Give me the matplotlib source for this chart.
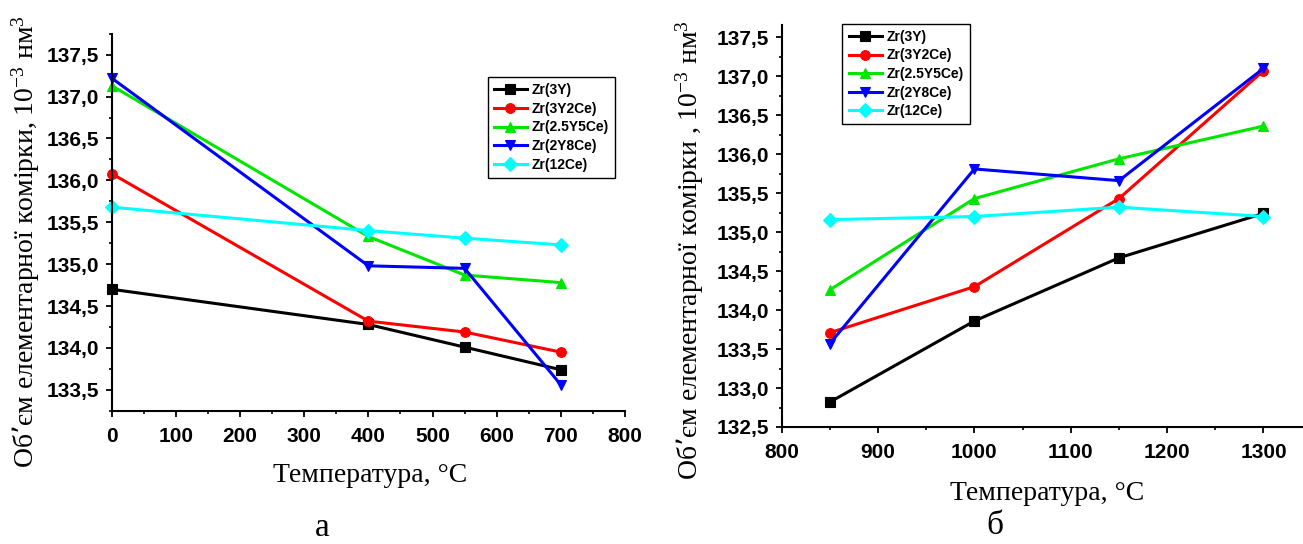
import matplotlib
matplotlib.use('Agg')
import matplotlib.pyplot as plt
from matplotlib.ticker import MultipleLocator, FuncFormatter

# ── Data ──────────────────────────────────────────────
labels = ["Zr(3Y)", "Zr(3Y2Ce)", "Zr(2.5Y5Ce)", "Zr(2Y8Ce)", "Zr(12Ce)"]
colors = ['#000000', '#ff0000', '#00e600', '#0000ff', '#00ffff']
markers = ['s', 'o', '^', 'v', 'D']

temp_a = [0, 400, 550, 700]
vol_a = [
    [134.70, 134.28, 134.01, 133.74],
    [136.08, 134.32, 134.19, 133.95],
    [137.13, 135.33, 134.87, 134.78],
    [137.22, 134.98, 134.95, 133.56],
    [135.68, 135.40, 135.31, 135.23],
]

temp_b = [850, 1000, 1150, 1300]
vol_b = [
    [132.82, 133.86, 134.67, 135.24],
    [133.71, 134.30, 135.43, 137.07],
    [134.26, 135.43, 135.94, 136.36],
    [133.57, 135.81, 135.66, 137.10],
    [135.16, 135.20, 135.32, 135.20],
]

W, H = 1303, 544
fig = plt.figure(figsize=(W / 100, H / 100), dpi=100)


def px(x0, y0, x1, y1):
    # pixel box (top-left origin) -> figure fraction rect
    return [x0 / W, 1 - y1 / H, (x1 - x0) / W, (y1 - y0) / H]


comma = FuncFormatter(lambda v, p: f'{v:.1f}'.replace('.', ','))
serif = ['Liberation Serif', 'DejaVu Serif']


def style(ax):
    ax.spines['top'].set_visible(False)
    ax.spines['right'].set_visible(False)
    for s in ('left', 'bottom'):
        ax.spines[s].set_linewidth(1.5)
    ax.tick_params(which='major', direction='out', length=4.5, width=1.3)
    ax.tick_params(which='minor', direction='out', length=2.5, width=1.2)
    ax.tick_params(axis='y', pad=4.5)
    ax.tick_params(axis='x', pad=7)
    for lab in ax.get_xticklabels() + ax.get_yticklabels():
        lab.set_fontfamily('Liberation Sans')
        lab.set_fontweight('bold')
        lab.set_fontsize(15)
    ax.yaxis.set_major_formatter(comma)
    ax.set_facecolor('none')


def draw(ax, temps, vols, legend_px):
    for lab, col, mk, v in zip(labels, colors, markers, vols):
        ax.plot(temps, v, marker=mk, color=col, linewidth=2.2, markersize=7,
                markeredgewidth=0.8, label=lab, clip_on=False)
    leg = ax.legend(loc='upper left',
                    bbox_to_anchor=(legend_px[0] / W, 1 - legend_px[1] / H),
                    bbox_transform=fig.transFigure,
                    prop={'family': 'Liberation Sans', 'weight': 'bold', 'size': 10},
                    handlelength=2.4, handletextpad=0.3, labelspacing=0.33,
                    borderpad=0.45, borderaxespad=0, fancybox=False,
                    edgecolor='black', framealpha=1, numpoints=1)
    leg.get_frame().set_linewidth(1.0)


# ── Panel a ──
ax1 = fig.add_axes(px(111.7, 33.7, 625, 410.8))
draw(ax1, temp_a, vol_a, (487.5, 77))
ax1.set_xlim(0, 800)
ax1.set_ylim(133.25, 137.75)
ax1.xaxis.set_major_locator(MultipleLocator(100))
ax1.xaxis.set_minor_locator(MultipleLocator(50))
ax1.yaxis.set_major_locator(MultipleLocator(0.5))
ax1.yaxis.set_minor_locator(MultipleLocator(0.25))
style(ax1)

# ── Panel б ──
ax2 = fig.add_axes(px(781.7, 25.5, 1303, 427))
draw(ax2, temp_b, vol_b, (842.5, 23.6))
ax2.set_xlim(800, 1341)
ax2.set_ylim(132.5, 137.65)
ax2.xaxis.set_major_locator(MultipleLocator(100))
ax2.xaxis.set_minor_locator(MultipleLocator(50))
ax2.yaxis.set_major_locator(MultipleLocator(0.5))
ax2.yaxis.set_minor_locator(MultipleLocator(0.25))
style(ax2)

plt.rcParams['mathtext.default'] = 'regular'

# axis titles and panel letters
fig.text(26 / W, 1 - 242 / H, 'Об’єм елементарної комірки, 10$^{-3}$ нм$^{3}$',
         rotation=90, ha='center', va='center', fontsize=20, family=serif)
fig.text(690 / W, 1 - 250 / H, 'Об’єм елементарної комірки , 10$^{-3}$ нм$^{3}$',
         rotation=90, ha='center', va='center', fontsize=20, family=serif)
fig.text(370 / W, 1 - 475 / H, 'Температура, °С', ha='center', va='center',
         fontsize=20, family=serif)
fig.text(1047 / W, 1 - 493 / H, 'Температура, °С', ha='center', va='center',
         fontsize=20, family=serif)
fig.text(322 / W, 1 - 528 / H, 'а', ha='center', va='center', fontsize=24, family=serif)
fig.text(995 / W, 1 - 526 / H, 'б', ha='center', va='center', fontsize=24, family=serif)

fig.savefig('out.png', dpi=100)
print("out.png saved")
